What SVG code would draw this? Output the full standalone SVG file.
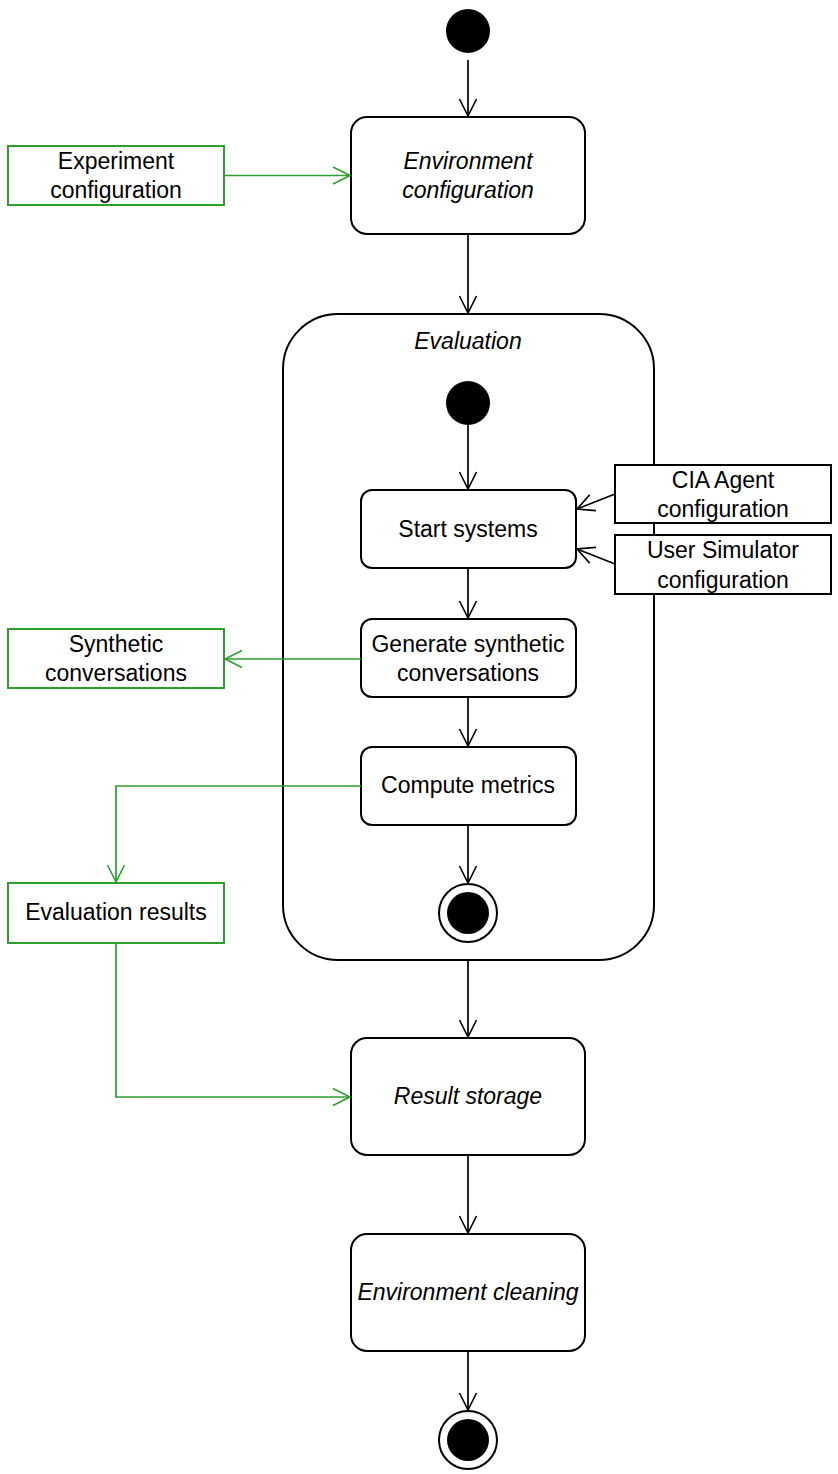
<svg xmlns="http://www.w3.org/2000/svg" width="838" height="1474" viewBox="0 0 838 1474">
<defs>
<marker id="ab" viewBox="0 0 20 20" refX="18" refY="10" markerWidth="20" markerHeight="20" orient="auto" markerUnits="userSpaceOnUse"><path d="M1,1.5 L18,10 L1,18.5" fill="none" stroke="#000" stroke-width="1.6"/></marker>
<marker id="ag" viewBox="0 0 20 20" refX="18" refY="10" markerWidth="20" markerHeight="20" orient="auto" markerUnits="userSpaceOnUse"><path d="M1,1.5 L18,10 L1,18.5" fill="none" stroke="#2E9E2E" stroke-width="1.6"/></marker>
</defs>
<style>
text{font-family:"Liberation Sans",Arial,sans-serif;font-size:23px;fill:#000;text-anchor:middle}
.it{font-style:italic}
.act{fill:#fff;stroke:#000;stroke-width:2}
.obj{fill:#fff;stroke:#000;stroke-width:2}
.gobj{fill:#fff;stroke:#2E9E2E;stroke-width:2}
.c{fill:none;stroke:#000;stroke-width:1.7;marker-end:url(#ab)}
.g{fill:none;stroke:#2E9E2E;stroke-width:1.7;marker-end:url(#ag)}
</style>
<rect width="838" height="1474" fill="#fff"/>

<g id="start"><circle cx="468" cy="31" r="22" fill="#000"/></g>

<g id="env-config"><rect class="act" x="351" y="117" width="234" height="117" rx="16"/>
<text class="it" x="468" y="169">Environment</text><text class="it" x="468" y="198">configuration</text></g>

<g id="exp-config"><rect class="gobj" x="8" y="146" width="216" height="59"/>
<text x="116" y="169">Experiment</text><text x="116" y="198">configuration</text></g>

<g id="evaluation"><rect class="act" x="283" y="314" width="371" height="646" rx="55"/>
<text class="it" x="468" y="349">Evaluation</text></g>

<g id="inner-start"><circle cx="468" cy="403" r="22" fill="#000"/></g>

<g id="start-systems"><rect class="act" x="361" y="490" width="215" height="78" rx="11"/>
<text x="468" y="537">Start systems</text></g>

<g id="cia-config"><rect class="obj" x="615" y="465" width="216" height="58"/>
<text x="723" y="488">CIA Agent</text><text x="723" y="517">configuration</text></g>

<g id="user-sim-config"><rect class="obj" x="615" y="535" width="216" height="59"/>
<text x="723" y="558">User Simulator</text><text x="723" y="588">configuration</text></g>

<g id="generate"><rect class="act" x="361" y="619" width="215" height="78" rx="11"/>
<text x="468" y="652">Generate synthetic</text><text x="468" y="681">conversations</text></g>

<g id="synthetic-conv"><rect class="gobj" x="8" y="629" width="216" height="59"/>
<text x="116" y="652">Synthetic</text><text x="116" y="681">conversations</text></g>

<g id="compute"><rect class="act" x="361" y="747" width="215" height="78" rx="11"/>
<text x="468" y="793">Compute metrics</text></g>

<g id="eval-results"><rect class="gobj" x="8" y="883" width="216" height="60"/>
<text x="116" y="920">Evaluation results</text></g>

<g id="inner-end"><circle cx="468" cy="913" r="29" fill="#fff" stroke="#000" stroke-width="2"/><circle cx="468" cy="913" r="21" fill="#000"/></g>

<g id="result-storage"><rect class="act" x="351" y="1038" width="234" height="117" rx="16"/>
<text class="it" x="468" y="1104">Result storage</text></g>

<g id="env-cleaning"><rect class="act" x="351" y="1234" width="234" height="117" rx="16"/>
<text class="it" x="468" y="1300">Environment cleaning</text></g>

<g id="end"><circle cx="468" cy="1440" r="29" fill="#fff" stroke="#000" stroke-width="2"/><circle cx="468" cy="1440" r="21" fill="#000"/></g>

<g id="connectors">
<path class="c" d="M468,60 V116"/>
<path class="c" d="M468,234 V313"/>
<path class="g" d="M224,175.5 H350"/>
<path class="c" d="M468,425 V489"/>
<path class="c" d="M615,494 L577,509"/>
<path class="c" d="M615,564 L577,549"/>
<path class="c" d="M468,568 V618"/>
<path class="g" d="M361,659 H225"/>
<path class="c" d="M468,697 V746"/>
<path class="g" d="M361,786 H116 V882"/>
<path class="c" d="M468,825 V883"/>
<path class="c" d="M468,960 V1037"/>
<path class="g" d="M116,943 V1097 H350"/>
<path class="c" d="M468,1155 V1233"/>
<path class="c" d="M468,1351 V1410"/>
</g>
</svg>
